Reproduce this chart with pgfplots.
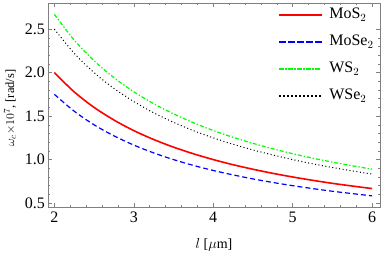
\documentclass[border=0pt]{standalone}
\usepackage{fontspec}
\setmainfont{Liberation Serif}
\usepackage{pgfplots}
\pgfplotsset{compat=1.18}
\pgfplotstableread{
l MoS MoSe WS WSe
2.00 2.000 1.750 2.670 2.500
2.25 1.778 1.556 2.373 2.222
2.50 1.600 1.400 2.136 2.000
2.75 1.455 1.273 1.942 1.818
3.00 1.333 1.167 1.780 1.667
3.25 1.231 1.077 1.643 1.538
3.50 1.143 1.000 1.526 1.429
3.75 1.067 0.933 1.424 1.333
4.00 1.000 0.875 1.335 1.250
4.25 0.941 0.824 1.256 1.176
4.50 0.889 0.778 1.187 1.111
4.75 0.842 0.737 1.124 1.053
5.00 0.800 0.700 1.068 1.000
5.25 0.762 0.667 1.017 0.952
5.50 0.727 0.636 0.971 0.909
5.75 0.696 0.609 0.929 0.870
6.00 0.667 0.583 0.890 0.833
}\datatable
\begin{document}
\fontsize{16}{19}\selectfont
\begin{tikzpicture}
\begin{axis}[
  name=ax,
  scale only axis,
  width=332pt, height=204pt,
  xmin=1.92, xmax=6.1,
  ymin=0.455, ymax=2.8,
  xtick={2,3,4,5,6},
  ytick={0.5,1.0,1.5,2.0,2.5},
  yticklabels={0.5,1.0,1.5,2.0,2.5},
  minor x tick num=4,
  minor y tick num=4,
  tick align=inside,
  major tick length=4pt,
  minor tick length=2pt,
  axis line style={gray},
  every tick/.style={gray},
  /pgf/number format/assume math mode=true,
  tick label style={font=\fontsize{16}{19}\selectfont},
  yticklabel style={anchor=east, inner sep=0pt, xshift=-3pt},
  xticklabel style={anchor=north, inner sep=0pt, yshift=-5pt},
  xlabel={$l$ [$\mu$m]},
  ylabel={$\omega_c{\times}10^7$, [rad/s]},
  xlabel style={font=\fontsize{14}{16}\selectfont, at={(axis description cs:0.5,0)}, anchor=center, yshift=-38pt},
  ylabel style={font=\fontsize{12.5}{15}\selectfont, at={(axis description cs:0,0.5)}, anchor=center, yshift=38pt, xshift=-3pt},
  legend style={draw=none, fill=none, at={(0.99,0.99)}, anchor=north east, font=\fontsize{16}{19}\selectfont, row sep=10pt, column sep=6pt, inner sep=1pt},
  legend cell align=left,
]
\addlegendimage{legend image code/.code={\fill[red] (0pt,-0.8pt) rectangle (42pt,0.8pt);}}
\addlegendentry{MoS$_2$}
\addlegendimage{legend image code/.code={\foreach \i in {0,9,18,27,36} {\fill[blue] (\i pt,-0.6pt) rectangle ++(6pt,1.2pt);}}}
\addlegendentry{MoSe$_2$}
\addlegendimage{legend image code/.code={\foreach \i in {0,9,18,27,36} {\fill[green] (\i pt,-0.6pt) rectangle ++(4pt,1.2pt);} \foreach \i in {6,15,24,33} {\fill[green] (\i pt,-0.6pt) rectangle ++(1.3pt,1.2pt);}}}
\addlegendentry{WS$_2$}
\addlegendimage{legend image code/.code={\foreach \i in {0,4,...,40} {\fill[black] (\i pt,-0.5pt) rectangle ++(1pt,1pt);}}}
\addlegendentry{WSe$_2$}
\addplot[red, line width=1.6pt, smooth, forget plot] table[x=l, y=MoS] {\datatable};
\addplot[blue, line width=1.2pt, dash pattern=on 5pt off 3pt, smooth, forget plot] table[x=l, y=MoSe] {\datatable};
\addplot[green, line width=1.2pt, dash pattern=on 4pt off 2pt on 1.3pt off 2pt, smooth, forget plot] table[x=l, y=WS] {\datatable};
\addplot[black, line width=1pt, dash pattern=on 1pt off 2.5pt, smooth, forget plot] table[x=l, y=WSe] {\datatable};
\end{axis}
\pgfresetboundingbox
\path ([xshift=-48pt,yshift=-47pt]ax.south west) rectangle ([xshift=2pt,yshift=3pt]ax.north east);
\end{tikzpicture}
\end{document}
